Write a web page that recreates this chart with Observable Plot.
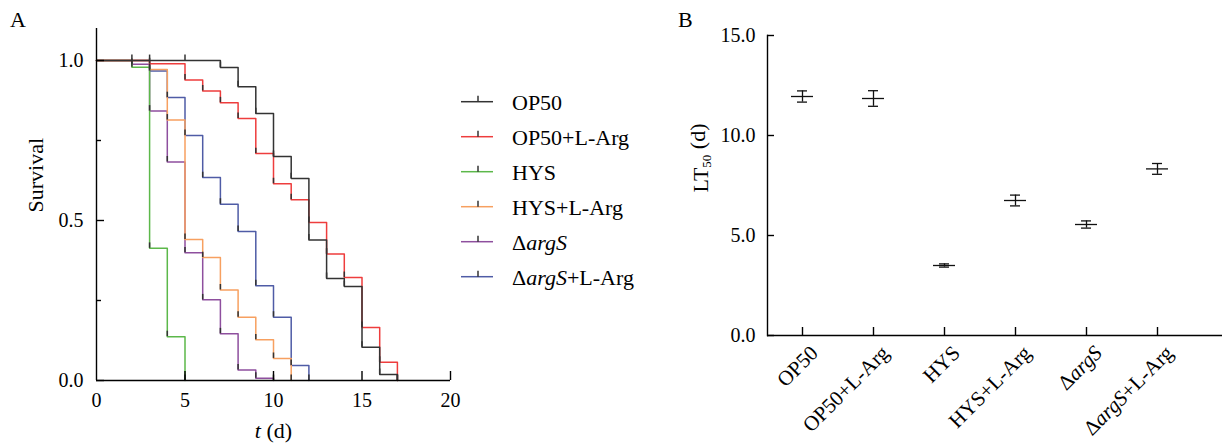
<!DOCTYPE html>
<html><head><meta charset="utf-8">
<script src="https://cdn.jsdelivr.net/npm/d3@7"></script>
<script src="https://cdn.jsdelivr.net/npm/@observablehq/plot@0.6"></script>
<style>
body{margin:0;background:#fff;}
#wrap{display:flex;width:1222px;height:448px;}
#wrap svg{flex-shrink:0;}
svg text{font-family:"Liberation Serif","Times New Roman",serif;}
</style></head><body><div id="wrap"></div>
<script>
// ---------- data ----------
const groups = ["OP50", "OP50+L-Arg", "HYS", "HYS+L-Arg", "ΔargS", "ΔargS+L-Arg"];
const colors = ["#333333", "#ee3d3d", "#5cb84a", "#f7a060", "#8e4f9e", "#4f5ca6"];

// Panel A: Kaplan-Meier step points (time in days, survival fraction)
const tOP50 = [0, 2, 3, 5, 7, 8, 9, 10, 11, 12, 13, 14, 15, 16, 17];
const sOP50 = [1, 1, 1, 1, 0.978, 0.918, 0.834, 0.700, 0.631, 0.439, 0.319, 0.294, 0.104, 0.019, 0];
const tOP50Arg = [0, 3, 5, 6, 7, 8, 9, 10, 11, 12, 13, 14, 15, 16, 17];
const sOP50Arg = [1, 0.99, 0.939, 0.905, 0.868, 0.819, 0.709, 0.615, 0.565, 0.494, 0.395, 0.322, 0.166, 0.057, 0];
const tHYS = [0, 2, 3, 4, 5];
const sHYS = [1, 0.979, 0.413, 0.137, 0];
const tHYSArg = [0, 3, 4, 5, 6, 7, 8, 9, 10, 11];
const sHYSArg = [1, 0.972, 0.814, 0.441, 0.384, 0.283, 0.198, 0.127, 0.069, 0];
const tArgS = [0, 2, 3, 4, 5, 6, 7, 8, 9, 10];
const sArgS = [1, 0.988, 0.842, 0.683, 0.399, 0.252, 0.146, 0.033, 0.007, 0];
const tArgSArg = [0, 3, 4, 5, 6, 7, 8, 9, 10, 11, 12];
const sArgSArg = [1, 0.967, 0.884, 0.766, 0.634, 0.551, 0.466, 0.296, 0.198, 0.047, 0];

const xTicksA = [0, 5, 10, 15, 20];
const yTicksA = [0, 0.5, 1.0];
const yMinorA = [0.25, 0.75];

// Panel B: LT50 mean and error
const lt50 = [11.95, 11.85, 3.50, 6.75, 5.55, 8.33];
const lt50Err = [0.28, 0.39, 0.08, 0.27, 0.18, 0.27];
const yTicksB = [0, 5, 10, 15];

// ---------- build tables ----------
const seriesT = [tOP50, tOP50Arg, tHYS, tHYSArg, tArgS, tArgSArg];
const seriesS = [sOP50, sOP50Arg, sHYS, sHYSArg, sArgS, sArgSArg];
const rows = [];
for (let i = groups.length - 1; i >= 0; i--) {
  seriesT[i].forEach((t, j) => rows.push({group: groups[i], t, s: seriesS[i][j]}));
}
const censor = rows.filter(d => d.t > 0);
const bData = groups.map((g, i) => ({g, m: lt50[i], e: lt50Err[i]}));

const font = "Liberation Serif, Times New Roman, serif";
const ax = {stroke: "#000", strokeWidth: 1.4};

// ---------- Panel A ----------
const WA = 670, HA = 448, mlA = 96, mrA = 220, mtA = 28, mbA = 68;
const fwA = WA - mlA - mrA, fhA = HA - mtA - mbA;
const A = Plot.plot({
  width: WA, height: HA, marginLeft: mlA, marginRight: mrA, marginTop: mtA, marginBottom: mbA,
  style: {fontFamily: font, fontSize: "20px", color: "#000", background: "transparent", overflow: "visible"},
  x: {domain: [0, 20]},
  y: {domain: [0, 1.1]},
  color: {domain: groups, range: colors},
  marks: [
    Plot.line(rows, {x: "t", y: "s", z: "group", stroke: "group", curve: "step-after", strokeWidth: 1.5}),
    Plot.ruleX(censor, {x: "t", y1: "s", y2: d => d.s + 0.017, stroke: "#333", strokeWidth: 1.5}),
    Plot.ruleX([0], ax),
    Plot.ruleY([0], ax),
    Plot.tickY(yTicksA, {y: d => d, insetRight: fwA - 8, ...ax}),
    Plot.tickY(yMinorA, {y: d => d, insetRight: fwA - 5, ...ax}),
    Plot.tickX(xTicksA.slice(1), {x: d => d, insetTop: fhA - 9, ...ax}),
    Plot.axisY({ticks: yTicksA, tickFormat: d3.format(".1f"), tickSize: 0, tickPadding: 13, label: null, fontSize: 20}),
    Plot.axisX({ticks: xTicksA, tickFormat: d3.format("d"), tickSize: 0, tickPadding: 12, label: null, fontSize: 20}),
    Plot.text(["Survival"], {frameAnchor: "left", dx: -61, dy: 8, rotate: -90, fontSize: 22, lineAnchor: "middle"}),
    Plot.text(["t (d)"], {frameAnchor: "bottom", dy: 50, fontSize: 22, lineAnchor: "middle"})
  ]
});

// ---------- Panel B ----------
const WB = 552, HB = 448, mlB = 97, mrB = 0, mtB = 35, mbB = 113;
const fwB = WB - mlB - mrB, fhB = HB - mtB - mbB;
const B = Plot.plot({
  width: WB, height: HB, marginLeft: mlB, marginRight: mrB, marginTop: mtB, marginBottom: mbB,
  style: {fontFamily: font, fontSize: "20px", color: "#000", background: "transparent", overflow: "visible"},
  x: {type: "point", domain: groups, range: [132, 487], padding: 0, axis: null},
  y: {domain: [0, 15], axis: null},
  marks: [
    Plot.ruleY([0], ax),
    Plot.frame({anchor: "left", ...ax}),
    Plot.tickY(yTicksB, {y: d => d, insetRight: fwB - 7, ...ax}),
    Plot.tickX(groups, {x: d => d, insetTop: fhB - 8, ...ax}),
    Plot.ruleX(bData, {x: "g", y1: d => d.m - d.e, y2: d => d.m + d.e, stroke: "#111", strokeWidth: 1.3}),
    Plot.ruleY(bData, {x1: "g", x2: "g", y: d => d.m + d.e, insetLeft: -5, insetRight: -5, stroke: "#111", strokeWidth: 1.3}),
    Plot.ruleY(bData, {x1: "g", x2: "g", y: d => d.m - d.e, insetLeft: -5, insetRight: -5, stroke: "#111", strokeWidth: 1.3}),
    Plot.ruleY(bData, {x1: "g", x2: "g", y: "m", insetLeft: -11, insetRight: -11, stroke: "#111", strokeWidth: 1.3}),
    Plot.text(yTicksB, {y: d => d, text: d => d3.format(".1f")(d), frameAnchor: "left", dx: -12, textAnchor: "end", fontSize: 20}),
    Plot.text(groups, {x: d => d, frameAnchor: "bottom", rotate: -45, textAnchor: "end", lineAnchor: "middle", dx: 12, dy: 14, fontSize: 21}),
    Plot.text(["LT50 (d)"], {frameAnchor: "left", dx: -67, dy: 7, rotate: -90, fontSize: 22, lineAnchor: "middle"})
  ]
});

// ---------- legend & panel letters ----------
const sa = d3.select(A);
const leg = sa.append("g");
groups.forEach((g, i) => {
  const y = 101.7 + 35 * i;
  leg.append("line").attr("x1", 461).attr("x2", 493).attr("y1", y).attr("y2", y)
    .attr("stroke", colors[i]).attr("stroke-width", 1.5);
  leg.append("line").attr("x1", 478).attr("x2", 478).attr("y1", y).attr("y2", y - 6)
    .attr("stroke", "#333").attr("stroke-width", 1.5);
  leg.append("text").attr("x", 512).attr("y", y + 8).attr("font-size", 22)
    .attr("text-anchor", "start").attr("fill", "#000").text(g);
});
sa.append("text").attr("x", 10).attr("y", 27).attr("font-size", 22).attr("text-anchor", "start").text("A");
d3.select(B).append("text").attr("x", 8).attr("y", 27).attr("font-size", 22).attr("text-anchor", "start").text("B");

// rich text: italic argS, italic t, subscript 50
function rich(svg) {
  d3.select(svg).selectAll("text").each(function () {
    const el = d3.select(this);
    const s = this.textContent;
    if (s.includes("argS")) {
      const [pre, post] = s.split("argS");
      el.text("");
      el.append("tspan").text(pre);
      el.append("tspan").attr("font-style", "italic").text("argS");
      if (post) el.append("tspan").text(post);
    } else if (s === "t (d)") {
      el.text("");
      el.append("tspan").attr("font-style", "italic").text("t");
      el.append("tspan").text(" (d)");
    } else if (s === "LT50 (d)") {
      el.text("");
      el.append("tspan").text("LT");
      el.append("tspan").attr("font-size", 13).attr("dy", "0.3em").text("50");
      el.append("tspan").attr("dy", "-0.3em").text(" (d)");
    }
  });
}
rich(A); rich(B);

document.getElementById("wrap").append(A, B);
</script></body></html>
